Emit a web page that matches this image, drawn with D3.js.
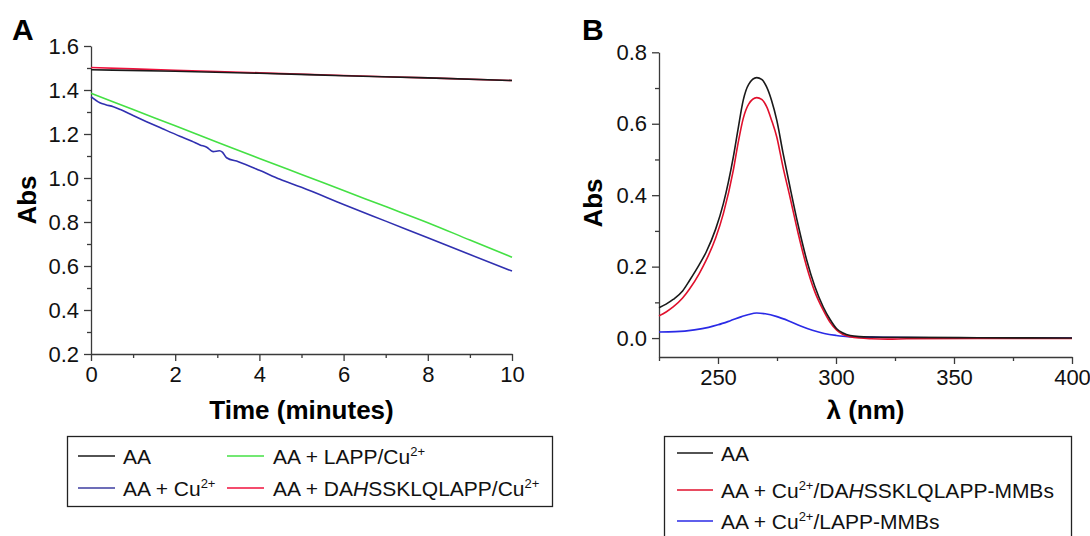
<!DOCTYPE html>
<html><head><meta charset="utf-8">
<script src="https://cdn.jsdelivr.net/npm/d3@7"></script>
<style>body{margin:0;background:#fff}svg{display:block}text{font-family:"Liberation Sans",Arial,sans-serif}</style>
</head><body>
<script>
// ---------- Panel A data ----------
const tAA = [0, 2, 4, 6, 8, 10];
const absAA = [1.492, 1.485, 1.476, 1.465, 1.455, 1.443];
const tRed = [0, 2, 4, 6, 8, 10];
const absRed = [1.502, 1.490, 1.478, 1.466, 1.455, 1.443];
const tGreen = [0, 1, 2, 3, 4, 5, 6, 7, 8, 9, 10];
const absGreen = [1.385, 1.311, 1.237, 1.163, 1.089, 1.016, 0.943, 0.87, 0.797, 0.718, 0.64];
const tBlue = [0, 0.21, 0.35, 0.53, 0.7, 1.0, 1.32, 1.7, 2.11, 2.4, 2.59, 2.75, 2.9, 3.05, 3.12, 3.22, 3.5, 4.0, 4.49, 5, 6, 7, 8, 9, 10];
const absBlue = [1.370, 1.342, 1.333, 1.324, 1.311, 1.284, 1.256, 1.224, 1.190, 1.167, 1.150, 1.140, 1.120, 1.124, 1.118, 1.092, 1.074, 1.035, 0.994, 0.958, 0.880, 0.804, 0.728, 0.652, 0.577];
const ticksAX = [0, 2, 4, 6, 8, 10];
const ticksAY = [0.2, 0.4, 0.6, 0.8, 1.0, 1.2, 1.4, 1.6];

// ---------- Panel B data ----------
const wlAA = [225, 228, 231, 235, 238, 242, 245, 249, 252.3, 256.5, 258.5, 260.7, 263, 266.4, 268.5, 270.6, 272.7, 274.9, 277.5, 280.5, 284, 287.6, 291, 294.6, 297.5, 300.3, 303, 306, 310, 315, 330, 360, 400];
const absB_AA = [0.085, 0.095, 0.108, 0.132, 0.162, 0.205, 0.241, 0.305, 0.377, 0.507, 0.585, 0.666, 0.710, 0.729, 0.724, 0.703, 0.665, 0.610, 0.520, 0.423, 0.315, 0.218, 0.145, 0.087, 0.052, 0.026, 0.014, 0.007, 0.004, 0.003, 0.002, 0.001, 0.0];
const wlRed = [225, 228, 231, 235, 238, 242, 245, 249, 252.3, 256.5, 258.5, 260.7, 263, 266.4, 268.5, 270.6, 272.7, 274.9, 277.5, 280.5, 284, 287.6, 291, 294.6, 297.5, 300.3, 303, 306, 310, 315, 322, 330, 360, 400];
const absB_Red = [0.062, 0.073, 0.087, 0.112, 0.138, 0.180, 0.218, 0.280, 0.349, 0.470, 0.545, 0.615, 0.655, 0.673, 0.668, 0.648, 0.610, 0.563, 0.480, 0.395, 0.292, 0.199, 0.130, 0.078, 0.044, 0.022, 0.010, 0.004, 0.0, -0.002, -0.003, -0.002, -0.001, -0.001];
const wlBlue = [225, 232, 240, 246, 250, 255, 260, 263, 266.4, 270, 275, 280, 285, 290, 295, 300, 305, 312, 320, 340, 370, 400];
const absB_Blue = [0.017, 0.018, 0.023, 0.030, 0.037, 0.048, 0.060, 0.066, 0.070, 0.068, 0.060, 0.048, 0.034, 0.022, 0.013, 0.0075, 0.004, 0.003, 0.002, 0.001, 0.001, 0.0];
const ticksBX = [250, 300, 350, 400];
const ticksBY = [0.0, 0.2, 0.4, 0.6, 0.8];

const legendA = [
  {col: 0, row: 0, color: "#1a1a1a", parts: [{t: "AA"}]},
  {col: 0, row: 1, color: "#3c3ca0", parts: [{t: "AA + Cu"}, {t: "2+", sup: true}]},
  {col: 1, row: 0, color: "#44e044", parts: [{t: "AA + LAPP/Cu"}, {t: "2+", sup: true}]},
  {col: 1, row: 1, color: "#f0103c", parts: [{t: "AA + DA"}, {t: "H", it: true}, {t: "SSKLQLAPP/Cu"}, {t: "2+", sup: true}]}
];
const legendB = [
  {row: 0, color: "#1a1a1a", parts: [{t: "AA"}]},
  {row: 1, color: "#e0102c", parts: [{t: "AA + Cu"}, {t: "2+", sup: true}, {t: "/DA"}, {t: "H", it: true}, {t: "SSKLQLAPP-MMBs"}]},
  {row: 2, color: "#2a2ae6", parts: [{t: "AA + Cu"}, {t: "2+", sup: true}, {t: "/LAPP-MMBs"}]}
];

const W = 1090, H = 536;
const svg = d3.select("body").append("svg").attr("width", W).attr("height", H);
svg.append("rect").attr("width", W).attr("height", H).attr("fill", "#fff");
const axisColor = "#3a3a3a";
const TICKFS = 22, LABFS = 26, LEGFS = 21;

function styleAxis(g) {
  g.selectAll("path,line").attr("stroke", axisColor).attr("stroke-width", 1.3);
  g.selectAll("text").attr("font-size", TICKFS).attr("fill", "#111").attr("font-family", '"Liberation Sans", Arial, sans-serif');
}

function drawPanel(o) {
  const x = d3.scaleLinear().domain(o.xd).range([o.x0, o.x1]);
  const y = d3.scaleLinear().domain(o.yd).range([o.y1, o.y0]);
  const gxm = svg.append("g").attr("transform", `translate(0,${o.y1})`)
    .call(d3.axisBottom(x).tickValues(o.xMinor).tickSize(4).tickFormat(""));
  gxm.select("path").remove(); gxm.selectAll("text").remove(); styleAxis(gxm);
  const gym = svg.append("g").attr("transform", `translate(${o.x0},0)`)
    .call(d3.axisLeft(y).tickValues(o.yMinor).tickSize(4).tickFormat(""));
  gym.select("path").remove(); gym.selectAll("text").remove(); styleAxis(gym);
  const gx = svg.append("g").attr("transform", `translate(0,${o.y1})`)
    .call(d3.axisBottom(x).tickValues(o.xTicks).tickSize(7).tickSizeOuter(0).tickPadding(5).tickFormat(o.xFmt));
  styleAxis(gx);
  const gy = svg.append("g").attr("transform", `translate(${o.x0},0)`)
    .call(d3.axisLeft(y).tickValues(o.yTicks).tickSize(7).tickSizeOuter(0).tickPadding(5).tickFormat(d3.format(".1f")));
  styleAxis(gy);
  const line = d3.line().x(d => x(d[0])).y(d => y(d[1])).curve(d3.curveMonotoneX);
  o.series.forEach(s => {
    svg.append("path").datum(d3.zip(s.x, s.y)).attr("d", line)
      .attr("fill", "none").attr("stroke", s.color).attr("stroke-width", 1.6);
  });
  svg.append("text").attr("x", (o.x0 + o.x1) / 2).attr("y", 419).attr("text-anchor", "middle")
    .attr("font-size", LABFS).attr("font-weight", "bold").text(o.xLabel);
  svg.append("text").attr("transform", `translate(${o.yLabX},${o.yLabY}) rotate(-90)`).attr("text-anchor", "middle")
    .attr("font-size", LABFS).attr("font-weight", "bold").text("Abs");
  svg.append("text").attr("x", o.letterX).attr("y", 40).attr("font-size", 30).attr("font-weight", "bold").text(o.letter);
}

drawPanel({
  xd: [0, 10], yd: [0.2, 1.6], x0: 91, x1: 512, y0: 46, y1: 354,
  xTicks: ticksAX, yTicks: ticksAY,
  xMinor: [1, 3, 5, 7, 9], yMinor: [0.3, 0.5, 0.7, 0.9, 1.1, 1.3, 1.5],
  xFmt: d3.format("d"), xLabel: "Time (minutes)", yLabX: 36, yLabY: 200, letter: "A", letterX: 12,
  series: [
    {x: tGreen, y: absGreen, color: "#44e044"},
    {x: tBlue, y: absBlue, color: "#3030b0"},
    {x: tRed, y: absRed, color: "#f0103c"},
    {x: tAA, y: absAA, color: "#1a1a1a"}
  ]
});

drawPanel({
  xd: [225, 400], yd: [-0.053, 0.8], x0: 659, x1: 1072, y0: 52.3, y1: 357,
  xTicks: ticksBX, yTicks: ticksBY,
  xMinor: [225, 275, 325, 375], yMinor: [0.1, 0.3, 0.5, 0.7],
  xFmt: d3.format("d"), xLabel: "λ (nm)", yLabX: 602, yLabY: 203, letter: "B", letterX: 582,
  series: [
    {x: wlBlue, y: absB_Blue, color: "#2a2ae6"},
    {x: wlRed, y: absB_Red, color: "#e0102c"},
    {x: wlAA, y: absB_AA, color: "#1a1a1a"}
  ]
});

function legendText(sel, parts) {
  let shift = 0;
  parts.forEach(p => {
    const ts = sel.append("tspan").text(p.t);
    if (p.sup) {
      ts.attr("font-size", 13).attr("dy", -8 - shift);
      shift = -8;
    } else {
      if (shift !== 0) { ts.attr("dy", -shift); shift = 0; }
      if (p.it) ts.attr("font-style", "italic");
    }
  });
}

// Legend A
svg.append("rect").attr("x", 67.5).attr("y", 436.5).attr("width", 485).attr("height", 70)
  .attr("fill", "#fff").attr("stroke", "#222").attr("stroke-width", 1.3);
const colA = [{l0: 78, l1: 115, tx: 123}, {l0: 227, l1: 264, tx: 273}];
const rowA = [456, 488];
legendA.forEach(d => {
  const c = colA[d.col], yy = rowA[d.row];
  svg.append("line").attr("x1", c.l0).attr("x2", c.l1).attr("y1", yy).attr("y2", yy)
    .attr("stroke", d.color).attr("stroke-width", 1.4);
  const t = svg.append("text").attr("x", c.tx).attr("y", yy + 7.5).attr("font-size", LEGFS).attr("fill", "#111");
  legendText(t, d.parts);
});

// Legend B
svg.append("rect").attr("x", 664.5).attr("y", 436.5).attr("width", 407).attr("height", 110)
  .attr("fill", "#fff").attr("stroke", "#222").attr("stroke-width", 1.3);
const rowB = [453, 490, 521];
legendB.forEach(d => {
  const yy = rowB[d.row];
  svg.append("line").attr("x1", 677).attr("x2", 713).attr("y1", yy).attr("y2", yy)
    .attr("stroke", d.color).attr("stroke-width", 1.4);
  const t = svg.append("text").attr("x", 721).attr("y", yy + 7.5).attr("font-size", LEGFS).attr("fill", "#111");
  legendText(t, d.parts);
});
</script>
</body></html>
